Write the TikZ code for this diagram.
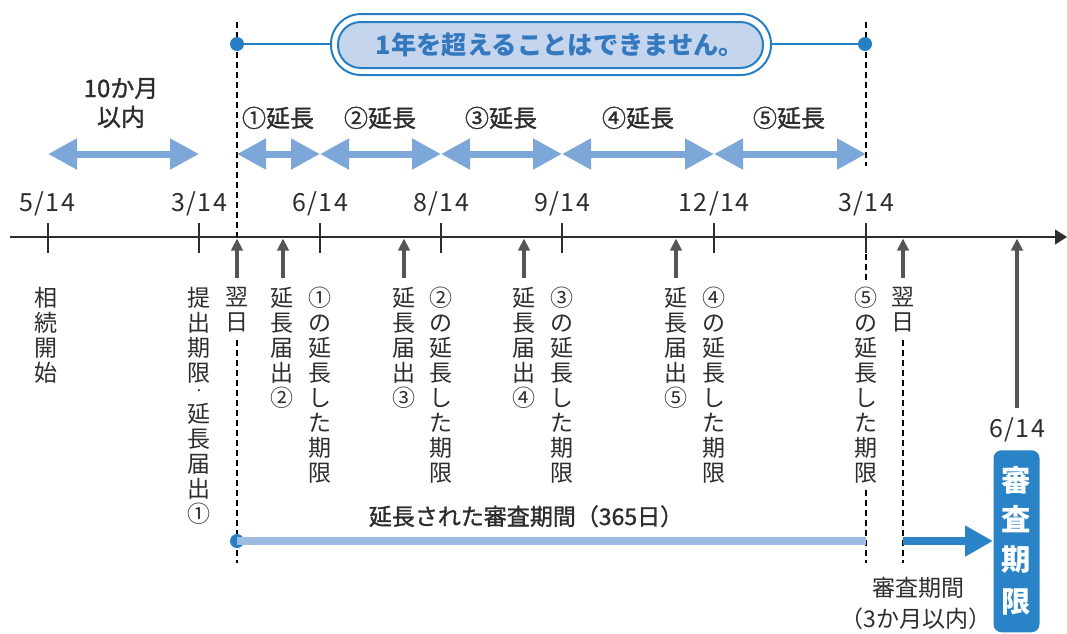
\documentclass[tikz,border=0pt]{standalone}
\usepackage{fontspec}
\setmainfont{Noto Sans CJK JP}
\newfontfamily\jpmed{Noto Sans CJK JP}[FakeBold=1.2]
\newfontfamily\datefont{Noto Sans CJK JP}[LetterSpace=6]
\usetikzlibrary{arrows.meta}
\definecolor{arrblue}{RGB}{125,167,217}
\definecolor{dotblue}{RGB}{38,127,196}
\definecolor{boxfill}{RGB}{197,213,238}
\definecolor{titleblue}{RGB}{52,120,190}
\definecolor{lineblue}{RGB}{157,187,227}
\definecolor{deepblue}{RGB}{42,131,199}
\definecolor{grayarr}{RGB}{85,85,85}
\definecolor{axisc}{RGB}{45,45,45}
\newcommand\vfont{\fontsize{17.25pt}{18.75pt}\selectfont}
\begin{document}
\begin{tikzpicture}[x=0.75pt,y=-0.75pt,
  span/.style={line width=5.25pt, arrblue, {Triangle[length=21.75pt,width=22pt]}-{Triangle[length=21.75pt,width=22pt]}},
  uparr/.style={line width=3pt, grayarr, -{Triangle[length=9pt,width=8.5pt]}},
  tickline/.style={line width=1.1pt, axisc},
  dashv/.style={line width=0.9pt, black, dash pattern=on 4.5pt off 3pt},
  datelbl/.style={anchor=base, inner sep=0, font=\datefont\fontsize{18.75pt}{20pt}\selectfont, text=axisc},
  vlbl/.style={anchor=north, inner sep=0, align=center, font=\vfont, text=axisc},
  toplbl/.style={anchor=base, inner sep=0, font=\jpmed\fontsize{18pt}{20pt}\selectfont, text=axisc},
  dotc/.style={circle, fill=dotblue, inner sep=0, minimum size=10.5pt}
]
\useasboundingbox (0,0) rectangle (1067,633);

% axis
\coordinate (axL) at (10,237);
\coordinate (axR) at (1067,237);
\draw[line width=1.5pt, axisc, -{Triangle[length=9pt,width=11pt]}] (axL) -- (axR);

% ticks
\foreach \n/\x in {a/48,b/199,c/320,d/441,e/562,f/714,g/866}{
  \coordinate (tt\n) at (\x,223);
  \coordinate (tb\n) at (\x,253);
  \draw[tickline] (tt\n) -- (tb\n);
}

% date labels
\node[datelbl] (d1) at (47,211) {5/14};
\node[datelbl] (d2) at (199,211) {3/14};
\node[datelbl] (d3) at (320,211) {6/14};
\node[datelbl] (d4) at (441,211) {8/14};
\node[datelbl] (d5) at (562,211) {9/14};
\node[datelbl] (d6) at (714,211) {12/14};
\node[datelbl] (d7) at (866,211) {3/14};

% dashed guide lines
\coordinate (gA1) at (237,22);  \coordinate (gA2) at (237,237);
\coordinate (gA3) at (237,340); \coordinate (gA4) at (237,563);
\coordinate (gB1) at (866,22);  \coordinate (gB2) at (866,166);
\coordinate (gB3) at (866,254); \coordinate (gB4) at (866,280);
\coordinate (gB5) at (866,490); \coordinate (gB6) at (866,563);
\coordinate (gC1) at (903,340); \coordinate (gC2) at (903,563);
\draw[dashv] (gA1) -- (gA2);
\draw[dashv] (gA3) -- (gA4);
\draw[dashv] (gB1) -- (gB2);
\draw[dashv] (gB3) -- (gB4);
\draw[dashv] (gB5) -- (gB6);
\draw[dashv] (gC1) -- (gC2);

% top bracket
\node[dotc] (tdL) at (237,44) {};
\node[dotc] (tdR) at (865,44) {};
\draw[line width=1.5pt, dotblue] (tdL) -- (tdR);
\draw[line width=1.5pt, dotblue, fill=white, rounded corners=22.5pt] (331,14) rectangle (771,75);
\draw[line width=1.5pt, dotblue, fill=boxfill, rounded corners=17pt] (338,22) rectangle (763,68);
\node[anchor=base, inner sep=0, font=\bfseries\fontsize{19pt}{20pt}\selectfont, text=titleblue] (title) at (560,54) {1年を超えることはできません。};

% top labels
\node[toplbl] (m10) at (121,97) {10か月};
\node[toplbl] (m10b) at (121,126) {以内};
\node[toplbl] (e1) at (278,127) {①延長};
\node[toplbl] (e2) at (380,127) {②延長};
\node[toplbl] (e3) at (501,127) {③延長};
\node[toplbl] (e4) at (638,127) {④延長};
\node[toplbl] (e5) at (789,127) {⑤延長};

% span arrows
\coordinate (s0) at (48,154);
\coordinate (s1) at (199,154);
\coordinate (p0) at (237,154);
\coordinate (p1) at (320,154);
\coordinate (p2) at (441,154);
\coordinate (p3) at (562,154);
\coordinate (p4) at (714,154);
\coordinate (p5) at (866,154);
\draw[span] (s0) -- (s1);
\draw[span] (p0) -- (p1);
\draw[span] (p1) -- (p2);
\draw[span] (p2) -- (p3);
\draw[span] (p3) -- (p4);
\draw[span] (p4) -- (p5);

% gray up arrows
\foreach \n/\x in {1/237,2/283,3/404,4/524,5/676,6/903}{
  \coordinate (ua\n) at (\x,278);
  \coordinate (ub\n) at (\x,238.5);
  \draw[uparr] (ua\n) -- (ub\n);
}
\coordinate (ua7) at (1017,408);
\coordinate (ub7) at (1017,238.5);
\draw[uparr] (ua7) -- (ub7);

% vertical labels
\node[vlbl] (v1) at (46,287) {相\\続\\開\\始};
\node[vlbl] (v2a) at (199,287) {提\\出\\期\\限};
\node[inner sep=0, font=\fontsize{12pt}{12pt}\selectfont, text=axisc] (v2b) at (199,393) {·};
\node[vlbl] (v2c) at (199,403) {延\\長\\届\\出\\①};
\node[vlbl] (v3) at (237,287) {翌\\日};
\node[vlbl] (v4) at (282,287) {延\\長\\届\\出\\②};
\node[vlbl] (v5) at (320,287) {①\\の\\延\\長\\し\\た\\期\\限};
\node[vlbl] (v6) at (404,287) {延\\長\\届\\出\\③};
\node[vlbl] (v7) at (441,287) {②\\の\\延\\長\\し\\た\\期\\限};
\node[vlbl] (v8) at (524,287) {延\\長\\届\\出\\④};
\node[vlbl] (v9) at (562,287) {③\\の\\延\\長\\し\\た\\期\\限};
\node[vlbl] (v10) at (676,287) {延\\長\\届\\出\\⑤};
\node[vlbl] (v11) at (714,287) {④\\の\\延\\長\\し\\た\\期\\限};
\node[vlbl] (v12) at (866,287) {⑤\\の\\延\\長\\し\\た\\期\\限};
\node[vlbl] (v13) at (903,287) {翌\\日};

% extended period
\node[anchor=base, inner sep=0, font=\jpmed\fontsize{17.25pt}{19pt}\selectfont, text=axisc] (ext) at (526,525) {延長された審査期間（365日）};
\node[dotc] (bdL) at (237,541) {};
\coordinate (bdR) at (866,541);
\draw[line width=6pt, lineblue] (bdL.center) -- (bdR);
\coordinate (baS) at (903,541);
\coordinate (baE) at (993,541);
\draw[line width=6pt, deepblue, -{Triangle[length=21pt,width=22pt]}] (baS) -- (baE);

\node[anchor=base, inner sep=0, font=\fontsize{17.25pt}{19pt}\selectfont, text=axisc] (rev1) at (918,596) {審査期間};
\node[anchor=base, inner sep=0, font=\fontsize{17.25pt}{19pt}\selectfont, text=axisc] (rev2) at (916,627) {（3か月以内）};
\node[datelbl] (d8) at (1017,437) {6/14};

% deadline box
\node[draw=none, fill=deepblue, rounded corners=6pt, minimum width=34.5pt, minimum height=136.5pt, inner sep=0, anchor=north] (box) at (1016.5,450) {};
\foreach \ch/\y in {審/491,査/530,期/570,限/612}{
  \node[anchor=base, inner sep=0, text=white, font=\bfseries\fontsize{22pt}{24pt}\selectfont] at (1016.5,\y) {\ch};
}
\end{tikzpicture}
\end{document}
